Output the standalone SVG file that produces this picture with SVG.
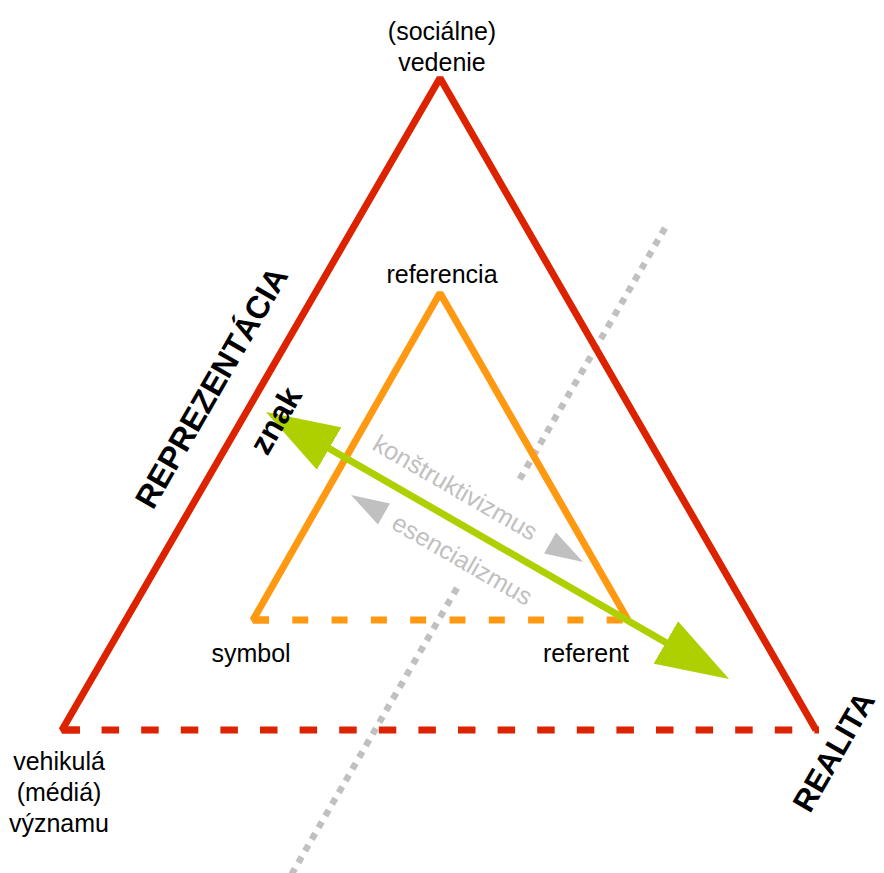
<svg xmlns="http://www.w3.org/2000/svg" width="884" height="873" viewBox="0 0 884 873">
  <style>
    .lbl { font-family: "Liberation Sans", Arial, sans-serif; font-size: 25px; fill: #000; text-anchor: middle; }
    .big { font-family: "Liberation Sans", Arial, sans-serif; font-size: 32px; font-weight: bold; fill: #000; text-anchor: middle; }
    .gray { font-family: "Liberation Sans", Arial, sans-serif; font-size: 25px; fill: #c0c0c0; text-anchor: middle; }
    .outer { fill: none; stroke: #dd2200; stroke-width: 7; stroke-linejoin: bevel; }
    .inner { fill: none; stroke: #ff9912; stroke-width: 7; stroke-linejoin: bevel; }
    .divide { fill: none; stroke: #c0c0c0; stroke-width: 6.5; stroke-dasharray: 6.7 6.8; }
    .sign { fill: none; stroke: #aed000; stroke-width: 7; }
  </style>
  <defs>
    <marker id="head" viewBox="0 -24.5 73 49" refX="4" refY="0" markerWidth="73" markerHeight="49" markerUnits="userSpaceOnUse" orient="auto-start-reverse">
      <path d="M0,-24.5 L73,0 L0,24.5 z" fill="#aed000"/>
    </marker>
    <path id="pointer" d="M0,0 L-38,-12 L-38,12 z" fill="#c0c0c0"/>
  </defs>
  <rect width="884" height="873" fill="#fff"/>

  <!-- divider between representation and reality -->
  <g id="divider">
    <line class="divide" x1="665" y1="228" x2="517" y2="484"/>
    <line class="divide" x1="457" y1="588" x2="290" y2="877"/>
  </g>

  <!-- outer triangle -->
  <g id="outer-triangle">
    <polyline class="outer" points="80,730 62,730 440,78 816,730"/>
    <line class="outer" x1="62" y1="730" x2="819" y2="730" stroke-dasharray="17.5 22.1"/>
  </g>

  <!-- inner triangle -->
  <g id="inner-triangle">
    <polyline class="inner" points="269,620 253,620 440,293 628,620"/>
    <line class="inner" x1="253" y1="620" x2="631" y2="620" stroke-dasharray="16 23.3"/>
  </g>

  <!-- connectors -->
  <g id="connectors">
    <line class="sign" x1="325.7" y1="446.5" x2="669.3" y2="644.5" marker-start="url(#head)" marker-end="url(#head)"/>
    <use href="#pointer" transform="translate(351,495) rotate(210)"/>
    <use href="#pointer" transform="translate(583,562) rotate(30)"/>
  </g>

  <!-- vertex labels -->
  <g id="node-vedenie">
    <text class="lbl" x="442" y="40">(sociálne)</text>
    <text class="lbl" x="442" y="71">vedenie</text>
  </g>
  <g id="node-vehikula">
    <text class="lbl" x="59" y="770">vehikulá</text>
    <text class="lbl" x="59" y="801">(médiá)</text>
    <text class="lbl" x="59" y="832">významu</text>
  </g>
  <g id="node-referencia">
    <text class="lbl" x="442" y="283">referencia</text>
  </g>
  <g id="node-symbol">
    <text class="lbl" x="251" y="662">symbol</text>
  </g>
  <g id="node-referent">
    <text class="lbl" x="586" y="662">referent</text>
  </g>

  <!-- side labels -->
  <g id="label-reprezentacia">
    <text class="big" transform="translate(221,393) rotate(-60)">REPREZENTÁCIA</text>
  </g>
  <g id="label-realita">
    <text class="big" style="font-size:31px" transform="translate(843,757) rotate(-60)">REALITA</text>
  </g>
  <g id="label-znak">
    <text class="big" transform="translate(285,426) rotate(-60)">znak</text>
  </g>
  <g id="label-konstruktivizmus">
    <text class="gray" transform="translate(451,495) rotate(30)">konštruktivizmus</text>
  </g>
  <g id="label-esencializmus">
    <text class="gray" transform="translate(458,567) rotate(30)">esencializmus</text>
  </g>
</svg>
